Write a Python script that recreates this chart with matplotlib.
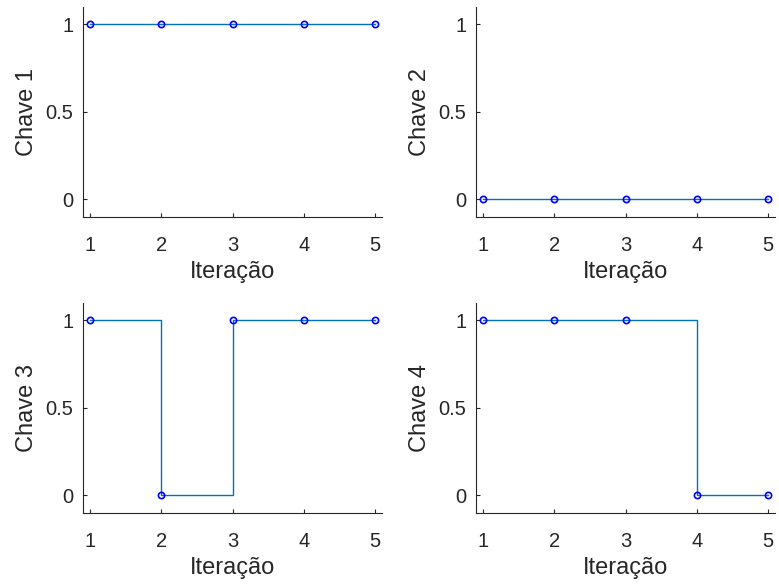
import matplotlib.pyplot as plt
import numpy as np

iteracoes = [1, 2, 3, 4, 5]
chave1 = [1, 1, 1, 1, 1]
chave2 = [0, 0, 0, 0, 0]
chave3 = [1, 0, 1, 1, 1]
chave4 = [1, 1, 1, 0, 0]
series = [chave1, chave2, chave3, chave4]
labels = ['Chave 1', 'Chave 2', 'Chave 3', 'Chave 4']

plt.rcParams['font.family'] = ['Liberation Sans', 'DejaVu Sans']
dark = '#262626'

fig = plt.figure(figsize=(7.79, 5.86), dpi=100)
positions = [
    [0.1066, 0.6297, 0.384, 0.3584],
    [0.6110, 0.6297, 0.384, 0.3584],
    [0.1066, 0.1246, 0.384, 0.3584],
    [0.6110, 0.1246, 0.384, 0.3584],
]

for pos, y, lab in zip(positions, series, labels):
    ax = fig.add_axes(pos)
    ax.step(iteracoes, y, where='post', color='#0072BD', lw=1.0)
    ax.plot(iteracoes, y, 'o', mfc='none', mec='blue', ms=4.5, mew=1.2)
    ax.set_xlim(0.9, 5.1)
    ax.set_ylim(-0.1, 1.1)
    ax.set_xticks(iteracoes)
    ax.set_yticks([0, 0.5, 1])
    ax.set_yticklabels(['0', '0.5', '1'])
    ax.set_xlabel('Iteração', fontsize=17, color=dark, labelpad=4)
    ax.set_ylabel(lab, fontsize=17, color=dark, labelpad=5)
    ax.tick_params(direction='in', length=3, width=0.8, colors=dark, labelsize=14.5)
    ax.tick_params(axis='x', pad=14)
    ax.tick_params(axis='y', pad=7)
    for s in ['top', 'right']:
        ax.spines[s].set_visible(False)
    for s in ['left', 'bottom']:
        ax.spines[s].set_color(dark)
        ax.spines[s].set_linewidth(0.8)

plt.savefig('out.png', dpi=100)
